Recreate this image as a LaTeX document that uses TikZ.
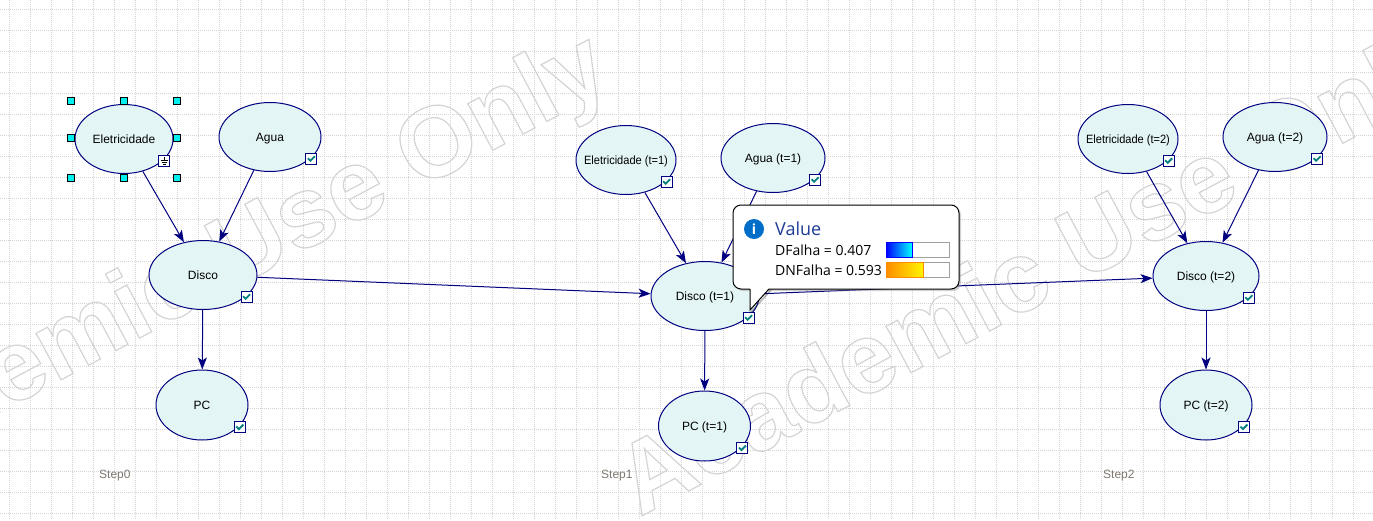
\documentclass[tikz,border=0pt]{standalone}
\usepackage{fontspec}
\setmainfont{Liberation Sans}
\newfontfamily\tipfont{Open Sans}
\usepackage{graphicx}
\usepackage{tikz}
\usetikzlibrary{shapes,arrows.meta,positioning,shadows,calc}

\definecolor{bnfill}{RGB}{228,245,245}
\definecolor{bnline}{RGB}{0,0,128}
\definecolor{chkteal}{RGB}{0,128,128}
\definecolor{gridgray}{RGB}{212,212,212}
\definecolor{wmgray}{RGB}{212,212,212}
\definecolor{steptxt}{RGB}{128,120,112}
\definecolor{infoblue}{RGB}{0,110,200}
\definecolor{valblue}{RGB}{30,60,150}
\definecolor{bargray}{RGB}{160,160,160}
\definecolor{handlecyan}{RGB}{0,240,240}

\newcommand{\nt}[1]{\makebox[0pt]{#1}}
\newcommand{\outl}[1]{\special{pdf:literal direct 1 Tr 1.2 w}#1\special{pdf:literal direct 0 Tr}}

\tikzset{
    chk/.pic={
        \draw[fill=white, draw=bnline, line width=1pt] (-5.5,-5.5) rectangle (5.5,5.5);
        \draw[chkteal, line width=1.8pt] (-3.5,-0.5) -- (-1,2) -- (3.5,-2.5);
    },
    gnd/.pic={
        \draw[fill=white, draw=bnline, line width=1pt] (-5.5,-5.5) rectangle (5.5,5.5);
        \draw[black, line width=1pt] (0,-4) -- (0,-1) (-3.5,-0.5) -- (3.5,-0.5) (-2.5,1.5) -- (2.5,1.5) (-1.5,3.5) -- (1.5,3.5);
    }
}

\begin{document}
\begin{tikzpicture}[x=1pt, y=-1pt,
    bn/.style={ellipse, draw=bnline, fill=bnfill, line width=1pt, inner sep=0pt, minimum width=100, minimum height=69, font=\fontsize{12}{14}\selectfont, text height=8.6pt, text depth=0pt},
    edge/.style={draw=bnline, line width=1pt, -{Stealth[length=12pt, width=9pt, inset=3pt]}},
    gridline/.style={draw=gridgray, line width=1pt, dash pattern=on 1pt off 1pt},
    wmark/.style={rotate=28, text=wmgray, font=\bfseries\fontsize{100}{100}\selectfont},
    handle/.style={draw=black, fill=handlecyan, line width=1pt},
    steplbl/.style={anchor=west, inner sep=0pt, text=steptxt, font=\fontsize{12}{14}\selectfont},
    tip/.style={rectangle, rounded corners=8pt, draw=black, fill=white, line width=1pt, minimum width=226, minimum height=84, drop shadow={shadow xshift=2pt, shadow yshift=-2pt, opacity=.35, fill=gray}},
    tiptxt/.style={anchor=west, inner sep=0pt, font=\tipfont\fontsize{14}{16}\selectfont},
    bar/.style={rectangle, draw=bargray, line width=1pt, outer sep=0pt, inner sep=0pt, minimum width=63, minimum height=15}]

    \useasboundingbox (0,0) rectangle (1373,520);
    \fill[white] (0,0) rectangle (1373,520);
    \foreach \gx in {0,...,64}
        \draw[gridline] ({9.5+21*\gx},0) -- ({9.5+21*\gx},520);
    \foreach \gy in {0,...,24}
        \draw[gridline] (0,{9.5+21*\gy}) -- (1373,{9.5+21*\gy});

    \node[wmark] (wm1) at (190,282) {\outl{Academic Use Only}};
    \node[wmark] (wm2) at (1040,275) {\outl{Academic Use Only}};

    \node[bn, minimum width=98] (el0) at (124,139) {\nt{Eletricidade}};
    \node[bn, minimum width=102] (ag0) at (270,137) {\nt{Agua}};
    \node[bn, minimum width=108] (di0) at (203,275) {\nt{Disco}};
    \node[bn, minimum width=92, minimum height=70] (pc0) at (202,405) {\nt{PC}};

    \node[bn] (el1) at (626,160) {\nt{\scalebox{0.92}[1]{Eletricidade (t=1)}}};
    \node[bn, minimum width=104] (ag1) at (773,158) {\nt{Agua (t=1)}};
    \node[bn, minimum width=108] (di1) at (705,296) {\nt{Disco (t=1)}};
    \node[bn, minimum width=92, minimum height=70] (pc1) at (704.5,426) {\nt{PC (t=1)}};

    \node[bn] (el2) at (1128,139) {\nt{\scalebox{0.92}[1]{Eletricidade (t=2)}}};
    \node[bn, minimum width=104] (ag2) at (1275,137) {\nt{Agua (t=2)}};
    \node[bn, minimum width=106] (di2) at (1206,276) {\nt{Disco (t=2)}};
    \node[bn, minimum width=92, minimum height=70] (pc2) at (1206,405) {\nt{PC (t=2)}};

    \pic at ([shift={(5,-3)}]el0.south east) {gnd};
    \foreach \nd in {ag0,di0,pc0,el1,ag1,di1,pc1,el2,ag2,di2,pc2}
        \pic at ([shift={(5,-3)}]\nd.south east) {chk};

    \foreach \hx/\hy in {71/101,124/101,177/101,71/138,177/138,71/178,124/178,177/178}
        \draw[handle] ({\hx-3.5},{\hy-3.5}) rectangle ++(7,7);

    \draw[edge] (el0) -- (di0);
    \draw[edge] (ag0) -- (di0);
    \draw[edge] (di0) -- (pc0);
    \draw[edge] (di0) -- (di1);
    \draw[edge] (el1) -- (di1);
    \draw[edge] (ag1) -- (di1);
    \draw[edge] (di1) -- (pc1);
    \draw[edge] (di1) -- (di2);
    \draw[edge] (el2) -- (di2);
    \draw[edge] (ag2) -- (di2);
    \draw[edge] (di2) -- (pc2);

    \node[steplbl] (s0) at (99,476) {Step0};
    \node[steplbl] (s1) at (601,476) {Step1};
    \node[steplbl] (s2) at (1103,476) {Step2};

    \node[tip] (tip) at (846,247) {};
    \coordinate (ptr) at (750,310);
    \fill[black, opacity=.3] (770,290) -- (772,290) -- ($(ptr)+(2,2)$) -- ($(ptr)+(0,2)$) -- cycle;
    \fill[white] (750,288) -- (769,288) -- (ptr) -- cycle;
    \draw[line width=1pt] (750,289) -- (ptr) -- (769,289);

    \node[circle, fill=infoblue, minimum size=20, inner sep=0pt, text=white, font=\tipfont\bfseries\fontsize{14}{14}\selectfont] (info) at (754,229) {i};
    \node[anchor=west, inner sep=0pt, text=valblue, font=\tipfont\fontsize{18}{20}\selectfont] (val) at (775,229) {Value};
    \node[tiptxt] (p1) at (775,250) {DFalha = 0.407};
    \node[tiptxt] (p2) at (775,270) {DNFalha = 0.593};
    \node[bar] (bar1) at (917.5,249.5) {};
    \node[bar] (bar2) at (917.5,269.5) {};
    \shadedraw[left color=blue, right color=cyan, draw=blue] (bar1.north west) rectangle ++(26,15);
    \shadedraw[left color={rgb,255:red,255;green,140;blue,0}, right color={rgb,255:red,255;green,245;blue,0}, draw={rgb,255:red,255;green,140;blue,0}] (bar2.north west) rectangle ++(37,15);
\end{tikzpicture}
\end{document}
